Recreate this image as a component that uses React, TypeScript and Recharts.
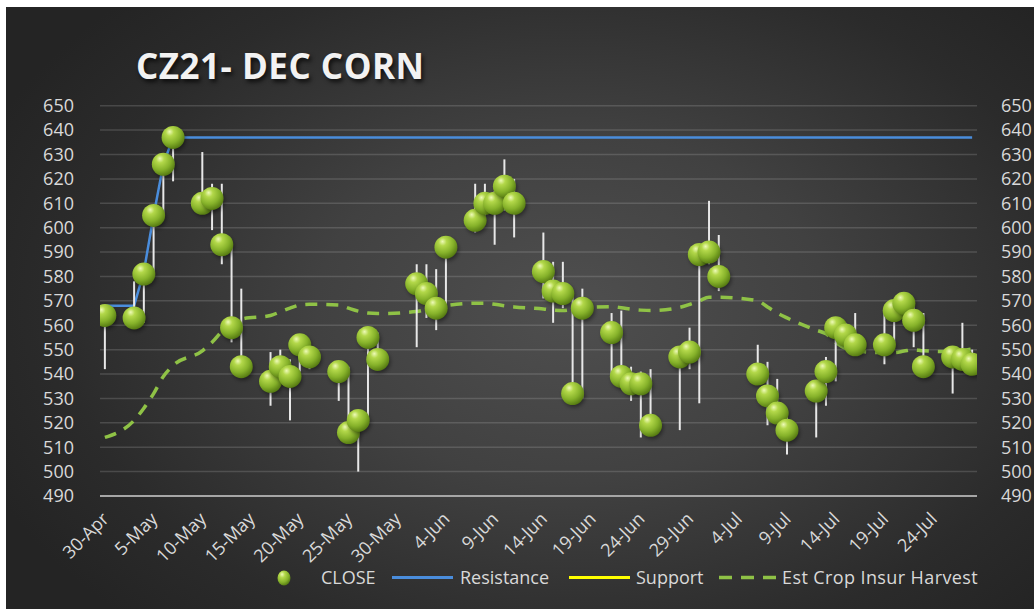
import React from 'react';
import {
  ComposedChart,
  Scatter,
  Line,
  ErrorBar,
  XAxis,
  YAxis,
  CartesianGrid,
} from 'recharts';

// ── Data ──────────────────────────────────────────────────────────────────────

const tradeDates = [
  '04-30',
  '05-03', '05-04', '05-05', '05-06', '05-07',
  '05-10', '05-11', '05-12', '05-13', '05-14',
  '05-17', '05-18', '05-19', '05-20', '05-21',
  '05-24', '05-25', '05-26', '05-27', '05-28',
  '06-01', '06-02', '06-03', '06-04',
  '06-07', '06-08', '06-09', '06-10', '06-11',
  '06-14', '06-15', '06-16', '06-17', '06-18',
  '06-21', '06-22', '06-23', '06-24', '06-25',
  '06-28', '06-29', '06-30', '07-01', '07-02',
  '07-06', '07-07', '07-08', '07-09',
  '07-12', '07-13', '07-14', '07-15', '07-16',
  '07-19', '07-20', '07-21', '07-22', '07-23',
  '07-26', '07-27', '07-28',
];

const closeValues = [
  564,
  563, 581, 605, 626, 637,
  610, 612, 593, 559, 543,
  537, 543, 539, 552, 547,
  541, 516, 521, 555, 546,
  577, 573, 567, 592,
  603, 610, 610, 617, 610,
  582, 574, 573, 532, 567,
  557, 539, 536, 536, 519,
  547, 549, 589, 590, 580,
  540, 531, 524, 517,
  533, 541, 559, 556, 552,
  552, 566, 569, 562, 543,
  547, 546, 544,
];

const highValues = [
  566,
  578, 584, 607, 629, 640,
  631, 618, 618, 593, 575,
  549, 550, 546, 554, 553,
  543, 543, 523, 557, 557,
  585, 585, 583, 593,
  618, 618, 615, 628, 620,
  598, 586, 586, 573, 575,
  565, 566, 543, 541, 542,
  549, 559, 590, 611, 597,
  552, 545, 538, 524,
  535, 547, 562, 561, 565,
  567, 570, 573, 568, 565,
  549, 561, 550,
];

const lowValues = [
  542,
  559, 561, 580, 605, 619,
  606, 599, 585, 553, 542,
  527, 538, 521, 541, 542,
  529, 514, 500, 521, 544,
  551, 563, 558, 568,
  598, 605, 593, 607, 596,
  571, 561, 567, 531, 530,
  540, 537, 529, 514, 518,
  517, 542, 528, 585, 574,
  538, 519, 521, 507,
  514, 527, 537, 551, 549,
  544, 553, 563, 551, 542,
  532, 542, 542,
];

const estCropInsurHarvest = [
  514,
  521, 526, 532, 539, 543.5,
  549.5, 553, 557.5, 561, 562.5,
  564, 565.5, 567, 568.3, 568.6,
  568.3, 567, 565.8, 565, 564.8,
  565.6, 566.5, 567.3, 568,
  569, 569, 568.6, 568, 567.5,
  566.7, 566.2, 566, 566.5, 567,
  567.6, 567.2, 566.6, 566.2, 566,
  567.3, 568.5, 570, 571.5, 571.5,
  570, 567.5, 565, 563,
  558, 556.5, 553, 550.5, 549.5,
  548.8, 548.8, 549.4, 550, 549.5,
  549.2, 549.6, 550.3,
];

const resistanceDates = ['04-30', '05-03', '05-04', '05-05', '05-06', '05-07', '07-28'];
const resistanceValues = [568, 568, 582, 605, 626, 637, 637];

const xTickDates = [
  '04-30', '05-05', '05-10', '05-15', '05-20', '05-25', '05-30', '06-04', '06-09',
  '06-14', '06-19', '06-24', '06-29', '07-04', '07-09', '07-14', '07-19', '07-24',
];
const xTickLabels = [
  '30-Apr', '5-May', '10-May', '15-May', '20-May', '25-May', '30-May', '4-Jun', '9-Jun',
  '14-Jun', '19-Jun', '24-Jun', '29-Jun', '4-Jul', '9-Jul', '14-Jul', '19-Jul', '24-Jul',
];
const yTicks = [490, 500, 510, 520, 530, 540, 550, 560, 570, 580, 590, 600, 610, 620, 630, 640, 650];

// ── Helpers ───────────────────────────────────────────────────────────────────

const START = Date.UTC(2021, 3, 30);
function dayIndex(md: string): number {
  const [m, d] = md.split('-').map(Number);
  return Math.round((Date.UTC(2021, m - 1, d) - START) / 86400000);
}

const rows = tradeDates.map((d, i) => ({
  x: dayIndex(d),
  close: closeValues[i],
  est: estCropInsurHarvest[i],
  hl: [closeValues[i] - lowValues[i], highValues[i] - closeValues[i]],
}));

const resRows = resistanceDates.map((d, i) => ({ x: dayIndex(d), res: resistanceValues[i] }));

const xTicks = xTickDates.map(dayIndex);
const tickLabelOf = (v: number) => xTickLabels[xTicks.indexOf(v)] ?? '';

const FONT = "'Open Sans', 'DejaVu Sans', sans-serif";
const TEXT = '#d9d9d9';

// ── Marks ─────────────────────────────────────────────────────────────────────

function Sphere(props: any) {
  const { cx, cy } = props;
  if (cx == null || cy == null) return null;
  return (
    <g>
      <circle cx={cx + 1.5} cy={cy + 2.5} r={11} fill="rgba(0,0,0,0.45)" filter="url(#sphereShadow)" />
      <circle cx={cx} cy={cy} r={11.5} fill="url(#sphereFill)" />
    </g>
  );
}

function XTick(props: any) {
  const { x, y, payload } = props;
  const tx = x + 5;
  return (
    <text
      x={tx} y={y} transform={`rotate(-45, ${tx}, ${y})`}
      textAnchor="end" fill={TEXT} fontSize={18} fontFamily={FONT}
    >
      {tickLabelOf(payload.value)}
    </text>
  );
}

// ── Main ──────────────────────────────────────────────────────────────────────

export default function App() {
  return (
    <div style={{
      position: 'absolute', left: 6, top: 7, width: 1028, height: 602, overflow: 'hidden',
      background: 'radial-gradient(ellipse 62% 72% at 55% 50%, #4f4f4f 0%, #414141 40%, #2b2b2b 80%, #242424 100%)',
      fontFamily: FONT,
    }}>
      <div style={{
        position: 'absolute', left: 130, top: 41, fontSize: 35, lineHeight: '35px',
        fontWeight: 700, color: '#f2f2f2', letterSpacing: 0.5, whiteSpace: 'nowrap',
        textShadow: '2px 3px 4px rgba(0,0,0,0.7)',
      }}>
        CZ21- DEC CORN
      </div>

      <ComposedChart
        width={1028} height={602} data={rows}
        margin={{ top: 98.7, right: 0, bottom: 53, left: 0 }}
        style={{ position: 'absolute', left: 0, top: 0 }}
      >
        <defs>
          <radialGradient id="sphereFill" cx="38%" cy="32%" r="70%" fx="35%" fy="25%">
            <stop offset="0%" stopColor="#eefab8" />
            <stop offset="25%" stopColor="#b3d84a" />
            <stop offset="65%" stopColor="#86b22a" />
            <stop offset="100%" stopColor="#557a12" />
          </radialGradient>
          <filter id="sphereShadow" x="-50%" y="-50%" width="200%" height="200%">
            <feGaussianBlur stdDeviation="2" />
          </filter>
        </defs>

        <CartesianGrid vertical={false} stroke="rgba(200,200,200,0.2)" strokeWidth={1.5} />

        <XAxis
          dataKey="x" type="number" domain={[-0.5, 89.5]} ticks={xTicks} interval={0}
          allowDataOverflow height={60}
          axisLine={{ stroke: '#a6a6a6', strokeWidth: 2 }} tickLine={false}
          tickSize={0} tickMargin={24} tick={<XTick />}
        />
        <YAxis
          yAxisId={0} orientation="left" width={94} domain={[490, 650]} ticks={yTicks}
          interval={0} allowDataOverflow axisLine={false} tickLine={false} tickSize={0} tickMargin={26}
          tick={{ fill: TEXT, fontSize: 18, fontFamily: FONT }}
        />
        <YAxis
          yAxisId="right" orientation="right" width={57} domain={[490, 650]} ticks={yTicks}
          interval={0} allowDataOverflow axisLine={false} tickLine={false} tickSize={0} tickMargin={24}
          tick={{ fill: TEXT, fontSize: 18, fontFamily: FONT, textAnchor: 'start' }}
        />

        <Line
          dataKey="est" type="monotone" stroke="#8fc246" strokeWidth={3.5}
          strokeDasharray="12 9" dot={false} activeDot={false} isAnimationActive={false}
        />
        <Line
          data={resRows} dataKey="res" type="linear" stroke="#4a8ddc" strokeWidth={2.5}
          dot={false} activeDot={false} isAnimationActive={false}
        />
        <Scatter dataKey="close" shape={<Sphere />} isAnimationActive={false}>
          <ErrorBar dataKey="hl" direction="y" width={0} stroke="#e8e8e8" strokeWidth={2} isAnimationActive={false} />
        </Scatter>
      </ComposedChart>

      <svg width={1028} height={602} style={{ position: 'absolute', left: 0, top: 0, pointerEvents: 'none' }}>
        <defs>
          <radialGradient id="legSphere" cx="38%" cy="32%" r="70%" fx="35%" fy="25%">
            <stop offset="0%" stopColor="#eefab8" />
            <stop offset="30%" stopColor="#b3d84a" />
            <stop offset="70%" stopColor="#86b22a" />
            <stop offset="100%" stopColor="#557a12" />
          </radialGradient>
        </defs>
        <g fontFamily={FONT} fontSize={18} fill={TEXT}>
          <ellipse cx={278} cy={571} rx={6.5} ry={7.5} fill="url(#legSphere)" />
          <text x={315} y={577.3}>CLOSE</text>
          <line x1={386} x2={447} y1={570.5} y2={570.5} stroke="#4a8ddc" strokeWidth={3} />
          <text x={454} y={577.3}>Resistance</text>
          <line x1={563} x2={624} y1={570.5} y2={570.5} stroke="#ffff00" strokeWidth={3} />
          <text x={630} y={577.3}>Support</text>
          <line x1={713} x2={770} y1={570.5} y2={570.5} stroke="#8fc246" strokeWidth={3.5} strokeDasharray="13 9" />
          <text x={776} y={577.3} letterSpacing={0.4}>Est Crop Insur Harvest</text>
        </g>
      </svg>
    </div>
  );
}
